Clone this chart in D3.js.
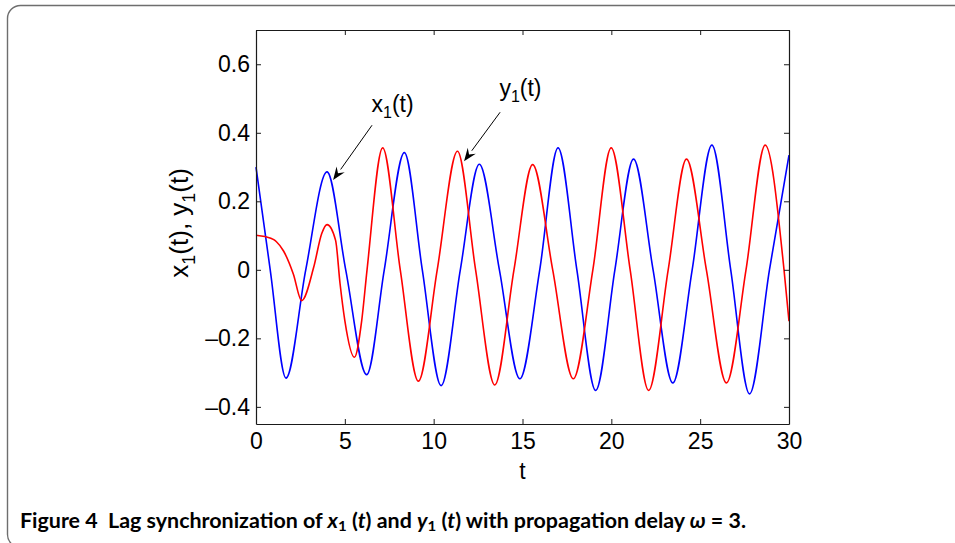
<!DOCTYPE html>
<html>
<head>
<meta charset="utf-8">
<script src="https://cdn.jsdelivr.net/npm/d3@7"></script>
<style>
  body { margin: 0; background: #fff; }
  svg { display: block; }
</style>
</head>
<body>
<svg width="955" height="543"></svg>
<script>
// ticks
const xTicks = [0, 5, 10, 15, 20, 25, 30]
const yTicks = [-0.4, -0.2, 0, 0.2, 0.4, 0.6]
const yTickLabels = ["\u20130.4", "\u20130.2", "0", "0.2", "0.4", "0.6"]

// x1(t), blue (extrema and zero crossings)
const x1T = [0, 0.8, 1.69, 2.8, 4.0, 5.05, 6.23, 7.22, 8.35, 9.36, 10.42, 11.5, 12.57, 13.7, 14.85,
             15.97, 17.0, 18.06, 19.12, 20.2, 21.25, 22.35, 23.46, 24.55, 25.66, 26.72, 27.78, 28.9, 30]
const x1V = [0.30, 0.0, -0.316, 0.0, 0.286, 0.0, -0.306, 0.0, 0.342, 0.0, -0.338, 0.0, 0.308, 0.0, -0.318,
             0.0, 0.356, 0.0, -0.352, 0.0, 0.323, 0.0, -0.33, 0.0, 0.364, 0.0, -0.362, 0.0, 0.335]

// y1(t), red
const y1T = [0, 0.5, 1.0, 1.15, 1.55, 2.1, 2.57, 3.25, 3.7, 4.0, 4.48, 4.73, 5.0, 5.54, 5.95, 6.25, 7.13, 8.12, 9.14,
             10.2, 11.34, 12.36, 13.44, 14.52, 15.57, 16.7, 17.86, 18.96, 19.99, 21.06, 22.1, 23.2, 24.23, 25.35,
             26.48, 27.58, 28.66, 29.72, 30]
const y1V = [0.101, 0.097, 0.088, 0.082, 0.055, -0.012, -0.09, 0.008, 0.106, 0.132, 0.086, -0.04, -0.148, -0.255,
             -0.148, 0.0, 0.356, 0.0, -0.325, 0.0, 0.346, 0.0, -0.336, 0.0, 0.307, 0.0, -0.318, 0.0, 0.356, 0.0,
             -0.352, 0.0, 0.323, 0.0, -0.33, 0.0, 0.364, 0.0, -0.15]

// annotations: [tail t, tail v, tip t, tip v] and label anchor [t, v]
const arrowX1 = [6.53, 0.422, 4.34, 0.262]
const arrowY1 = [13.74, 0.46, 11.71, 0.317]
const labelX1 = [6.5, 0.462]
const labelY1 = [13.7, 0.507]

const svg = d3.select("svg")
const font = "'Liberation Sans', Arial, Helvetica, sans-serif"
const fs = 23, fsSub = 16

// outer rounded frame
svg.append("rect")
  .attr("x", 7.5).attr("y", 5.5)
  .attr("width", 1000).attr("height", 542)
  .attr("rx", 13)
  .attr("fill", "none")
  .attr("stroke", "#6e6e6e")
  .attr("stroke-width", 1.4)

const x = d3.scaleLinear().domain([0, 30]).range([256, 789])
const y = d3.scaleLinear().domain([-0.45, 0.7]).range([424, 30])

const plot = svg.append("g")

// curves
const line = d3.line()
  .x(d => x(d[0]))
  .y(d => y(d[1]))
  .curve(d3.curveMonotoneX)

plot.append("path")
  .datum(x1T.map((t, i) => [t, x1V[i]]))
  .attr("d", line)
  .attr("fill", "none")
  .attr("stroke", "#0000ff")
  .attr("stroke-width", 1.6)

plot.append("path")
  .datum(y1T.map((t, i) => [t, y1V[i]]))
  .attr("d", line)
  .attr("fill", "none")
  .attr("stroke", "#ff0000")
  .attr("stroke-width", 1.6)

// axes, ticks inward on all four sides (matlab box)
function styleAxis(g) {
  g.attr("font-family", font).attr("font-size", fs)
  g.selectAll("path.domain").attr("stroke", "#1a1a1a").attr("stroke-width", 1.2)
  g.selectAll(".tick line").attr("stroke", "#1a1a1a").attr("stroke-width", 1)
  g.selectAll(".tick text").attr("fill", "#000")
}

plot.append("g")
  .attr("transform", `translate(0,${y(-0.45)})`)
  .call(d3.axisBottom(x).tickValues(xTicks).tickSizeInner(-5).tickSizeOuter(0).tickPadding(9))
  .call(styleAxis)

plot.append("g")
  .attr("transform", `translate(0,${y(0.7)})`)
  .call(d3.axisTop(x).tickValues(xTicks).tickFormat("").tickSizeInner(-5).tickSizeOuter(0))
  .call(styleAxis)

plot.append("g")
  .attr("transform", `translate(${x(0)},0)`)
  .call(d3.axisLeft(y).tickValues(yTicks).tickFormat((d, i) => yTickLabels[i]).tickSizeInner(-5).tickSizeOuter(0).tickPadding(6))
  .call(styleAxis)

plot.append("g")
  .attr("transform", `translate(${x(30)},0)`)
  .call(d3.axisRight(y).tickValues(yTicks).tickFormat("").tickSizeInner(-5).tickSizeOuter(0))
  .call(styleAxis)

// axis titles
plot.append("text")
  .attr("x", x(15)).attr("y", 479)
  .attr("text-anchor", "middle")
  .attr("font-family", font).attr("font-size", fs)
  .text("t")

function subLabel(sel, base, sub, tail, size, shift) {
  sel.append("tspan").text(base)
  sel.append("tspan").attr("font-size", size).attr("dy", shift).text(sub)
  sel.append("tspan").attr("dy", -shift).text(tail)
}

const ylab = plot.append("text")
  .attr("transform", `translate(188,${y(0.137)}) rotate(-90)`)
  .attr("text-anchor", "middle")
  .attr("font-family", font).attr("font-size", 26)
subLabel(ylab, "x", "1", "(t), ", 18, 7)
subLabel(ylab, "y", "1", "(t)", 18, 7)

// annotations
function arrow(a) {
  const x0 = x(a[0]), y0 = y(a[1]), x1 = x(a[2]), y1 = y(a[3])
  const ang = Math.atan2(y1 - y0, x1 - x0)
  const len = 13, half = 5
  const bx = x1 - len * Math.cos(ang), by = y1 - len * Math.sin(ang)
  plot.append("line")
    .attr("x1", x0).attr("y1", y0).attr("x2", bx).attr("y2", by)
    .attr("stroke", "#000").attr("stroke-width", 1)
  plot.append("path")
    .attr("d", `M${x1},${y1}L${bx + half * Math.sin(ang)},${by - half * Math.cos(ang)}` +
               `L${bx + 0.35 * len * Math.cos(ang)},${by + 0.35 * len * Math.sin(ang)}` +
               `L${bx - half * Math.sin(ang)},${by + half * Math.cos(ang)}Z`)
    .attr("fill", "#000")
}
arrow(arrowX1)
arrow(arrowY1)

const lx = plot.append("text")
  .attr("x", x(labelX1[0])).attr("y", y(labelX1[1]))
  .attr("font-family", font).attr("font-size", fs)
subLabel(lx, "x", "1", "(t)", fsSub, 6)

const ly = plot.append("text")
  .attr("x", x(labelY1[0])).attr("y", y(labelY1[1]))
  .attr("font-family", font).attr("font-size", fs)
subLabel(ly, "y", "1", "(t)", fsSub, 6)

// caption
const cap = svg.append("text")
  .attr("x", 20).attr("y", 528)
  .attr("font-family", "Lato, 'Open Sans', sans-serif")
  .attr("font-size", 20)
  .attr("font-weight", "bold")
  .attr("textLength", 726)
  .attr("lengthAdjust", "spacingAndGlyphs")
  .style("white-space", "pre")
cap.append("tspan").text("Figure 4  Lag synchronization of ")
cap.append("tspan").attr("font-style", "italic").text("x")
cap.append("tspan").attr("font-size", 14).attr("dy", 3).text("1")
cap.append("tspan").attr("dy", -3).text(" (")
cap.append("tspan").attr("font-style", "italic").text("t")
cap.append("tspan").text(") and ")
cap.append("tspan").attr("font-style", "italic").text("y")
cap.append("tspan").attr("font-size", 14).attr("dy", 3).text("1")
cap.append("tspan").attr("dy", -3).text(" (")
cap.append("tspan").attr("font-style", "italic").text("t")
cap.append("tspan").text(") with propagation delay ")
cap.append("tspan").attr("font-style", "italic").text("\u03c9")
cap.append("tspan").text(" = 3.")
</script>
</body>
</html>
